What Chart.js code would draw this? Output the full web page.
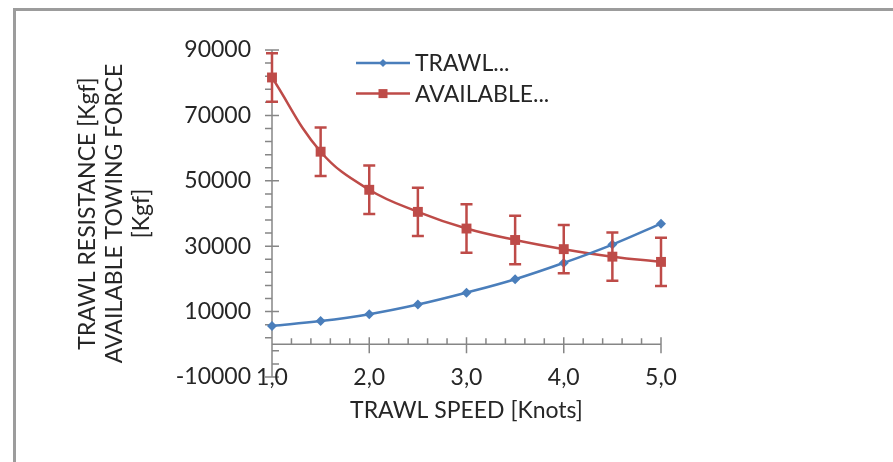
<!DOCTYPE html>
<html>
<head>
<meta charset="utf-8">
<script src="https://cdn.jsdelivr.net/npm/chart.js@4.4.1/dist/chart.umd.min.js"></script>
<style>
  html, body { margin: 0; padding: 0; background: #fff; }
  #wrap { position: relative; width: 893px; height: 462px; overflow: hidden; }
  #frame { position: absolute; left: 13px; top: 8px; width: 920px; height: 480px;
           border-top: 3px solid #9c9c9c; border-left: 3px solid #9c9c9c; }
  canvas { position: absolute; left: 0; top: 0; }
</style>
</head>
<body>
<div id="wrap">
  <div id="frame"></div>
  <canvas id="myChart" width="893" height="462"></canvas>
</div>
<script>
// values
const speeds = [1.0, 1.5, 2.0, 2.5, 3.0, 3.5, 4.0, 4.5, 5.0];
const trawlResistance = [5600, 7100, 9200, 12150, 15800, 19900, 24900, 30500, 36900];
const availableForce = [81600, 58900, 47250, 40500, 35400, 31900, 29100, 26800, 25200];
const forceError = [7400, 7400, 7400, 7400, 7400, 7400, 7400, 7400, 7400];
const legendLabels = ["TRAWL...", "AVAILABLE..."];
const yTitle = ["TRAWL RESISTANCE [Kgf]", "AVAILABLE TOWING FORCE", "[Kgf]"];
const xTitle = "TRAWL SPEED [Knots]";

const BLUE = "#4a7ebb";
const RED = "#be4b48";
const AXIS = "#868686";
const TEXT = "#262626";

function toPoints(ys) {
  return speeds.map((s, i) => ({ x: s, y: ys[i] }));
}

// error bars on the second series
const errorBars = {
  id: "errorBars",
  afterDatasetsDraw(chart) {
    const ctx = chart.ctx;
    const xs = chart.scales.x, ys = chart.scales.y;
    ctx.save();
    ctx.strokeStyle = RED;
    ctx.lineWidth = 2.5;
    speeds.forEach((s, i) => {
      const px = xs.getPixelForValue(s);
      const top = ys.getPixelForValue(availableForce[i] + forceError[i]);
      const bot = ys.getPixelForValue(availableForce[i] - forceError[i]);
      ctx.beginPath();
      ctx.moveTo(px, top); ctx.lineTo(px, bot);
      ctx.moveTo(px - 6, top); ctx.lineTo(px + 6, top);
      ctx.moveTo(px - 6, bot); ctx.lineTo(px + 6, bot);
      ctx.stroke();
    });
    ctx.restore();
  }
};

// axis lines with major and minor ticks, x axis crossing at y = 0,
// x tick labels kept low at the bottom of the plot
const axesLines = {
  id: "axesLines",
  beforeDatasetsDraw(chart) {
    const ctx = chart.ctx, area = chart.chartArea;
    const xs = chart.scales.x, ys = chart.scales.y;
    const y0 = ys.getPixelForValue(0);
    ctx.save();
    ctx.strokeStyle = AXIS;
    ctx.lineWidth = 1.5;
    ctx.beginPath();
    ctx.moveTo(area.left, area.top); ctx.lineTo(area.left, area.bottom);
    ctx.moveTo(area.left, y0); ctx.lineTo(area.right, y0);
    // y ticks
    for (let v = 90000; v >= -10000; v -= 4000) {
      const py = ys.getPixelForValue(v);
      if (v > 0) { ctx.moveTo(area.left - 7, py); ctx.lineTo(area.left, py); }
      else { ctx.moveTo(area.left, py); ctx.lineTo(area.left + 7, py); }
    }
    ys.ticks.forEach(t => {
      const py = ys.getPixelForValue(t.value);
      ctx.moveTo(area.left - 7, py); ctx.lineTo(area.left + 7, py);
    });
    // x ticks
    for (let k = 0; k <= 20; k++) {
      const px = xs.getPixelForValue(1 + k * 0.2);
      if (k % 5 === 0) { ctx.moveTo(px, y0 - 7); ctx.lineTo(px, y0 + 9); }
      else { ctx.moveTo(px, y0 - 6); ctx.lineTo(px, y0); }
    }
    ctx.stroke();

    ctx.fillStyle = TEXT;
    ctx.font = "23px Lato";
    ctx.textAlign = "center";
    ctx.textBaseline = "middle";
    xs.ticks.forEach(t => {
      ctx.fillText(t.label, xs.getPixelForValue(t.value), area.bottom + 1);
    });
    ctx.restore();
  }
};

// legend placed inside the plot area
const insideLegend = {
  id: "insideLegend",
  afterDraw(chart) {
    const ctx = chart.ctx, area = chart.chartArea;
    ctx.save();
    chart.data.datasets.forEach((ds, i) => {
      const y = area.top + 13 + i * 30.6;
      const x0 = area.left + 84;
      ctx.strokeStyle = ds.borderColor;
      ctx.fillStyle = ds.borderColor;
      ctx.lineWidth = 2.5;
      ctx.beginPath();
      ctx.moveTo(x0, y); ctx.lineTo(x0 + 54, y);
      ctx.stroke();
      const cx = x0 + 27;
      ctx.beginPath();
      if (i === 0) {
        ctx.moveTo(cx, y - 4); ctx.lineTo(cx + 4, y); ctx.lineTo(cx, y + 4); ctx.lineTo(cx - 4, y);
        ctx.closePath(); ctx.fill();
      } else {
        ctx.fillRect(cx - 4.5, y - 4.5, 9, 9);
      }
      ctx.fillStyle = TEXT;
      ctx.font = "23px Lato";
      ctx.textBaseline = "middle";
      ctx.fillText(ds.label, x0 + 59, y + 1);
    });
    ctx.restore();
  }
};

function renderChart() {
  Chart.defaults.font.family = "Lato";
  Chart.defaults.font.size = 23;
  Chart.defaults.color = TEXT;

  const ctx = document.getElementById("myChart").getContext("2d");
  new Chart(ctx, {
    type: "line",
    data: {
      datasets: [
        {
          label: legendLabels[0],
          data: toPoints(trawlResistance),
          borderColor: BLUE,
          backgroundColor: BLUE,
          borderWidth: 2.5,
          pointStyle: "rectRot",
          pointRadius: 5,
          pointBorderWidth: 0,
          tension: 0.4,
          clip: false,
          fill: false
        },
        {
          label: legendLabels[1],
          data: toPoints(availableForce),
          borderColor: RED,
          backgroundColor: RED,
          borderWidth: 2.5,
          pointStyle: "rect",
          pointRadius: 7,
          pointBorderWidth: 0,
          tension: 0.4,
          clip: false,
          fill: false
        }
      ]
    },
    options: {
      responsive: false,
      animation: false,
      layout: { padding: { left: 0, top: 50, right: 232, bottom: 0 } },
      plugins: { legend: { display: false }, tooltip: { enabled: false } },
      scales: {
        x: {
          type: "linear",
          min: 1,
          max: 5,
          grid: { display: false, drawTicks: false },
          border: { display: false },
          ticks: {
            display: false,
            stepSize: 1,
            callback: v => v.toFixed(1).replace(".", ",")
          },
          title: { display: true, text: xTitle, padding: { top: 0, bottom: 38 } },
          afterFit: s => { s.height = 85; }
        },
        y: {
          min: -10000,
          max: 90000,
          grid: { display: false, drawTicks: false },
          border: { display: false },
          ticks: { stepSize: 20000, padding: 21, callback: v => String(v) },
          title: { display: true, text: yTitle, padding: { top: 74, bottom: 0 }, font: { lineHeight: 1.18 } },
          afterFit: s => { s.width = 272; }
        }
      }
    },
    plugins: [axesLines, errorBars, insideLegend]
  });
}

window.onload = function() {
  renderChart();
}
</script>
</body>
</html>
